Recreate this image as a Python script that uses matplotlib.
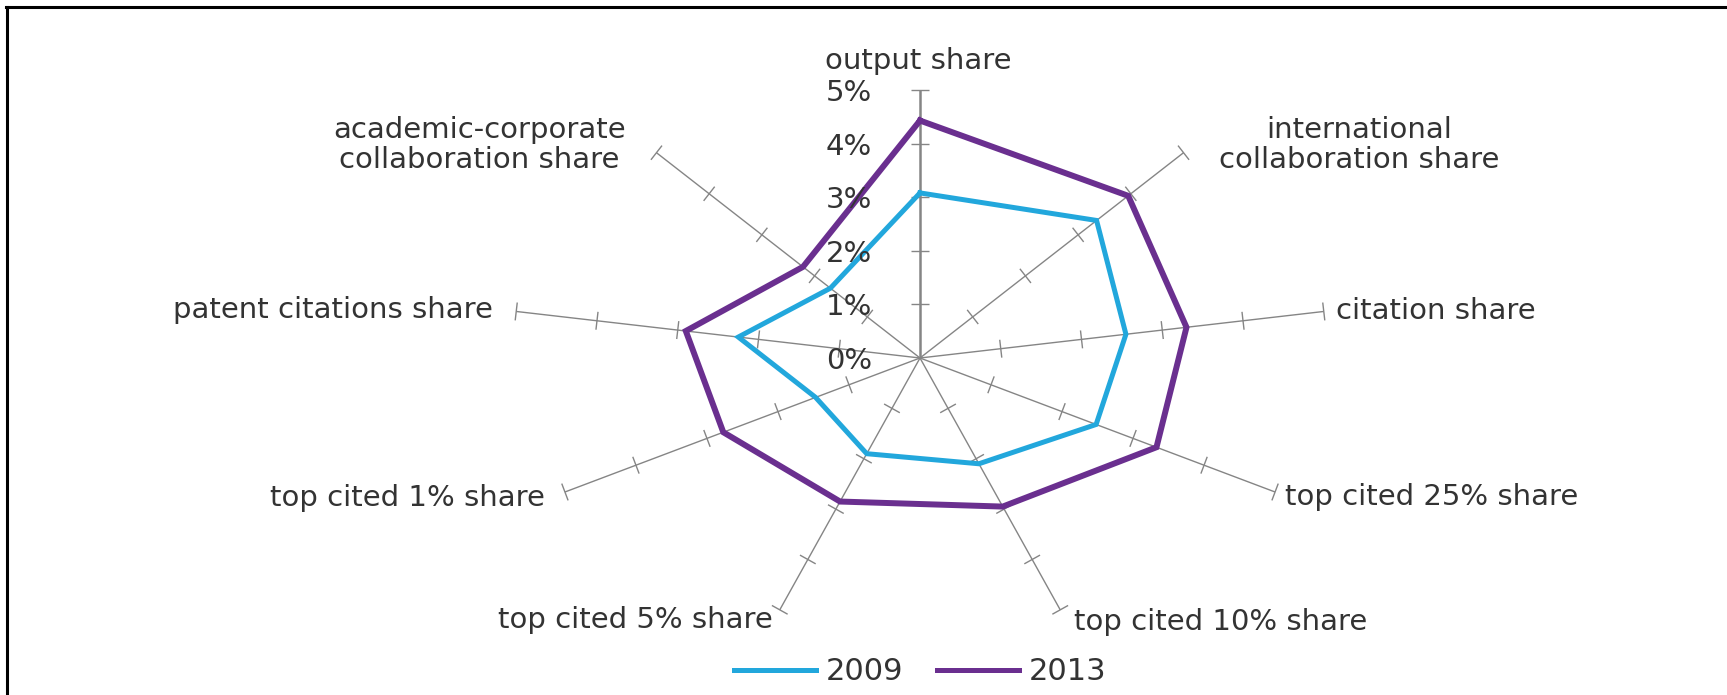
import numpy as np
import matplotlib
matplotlib.use("Agg")
import matplotlib.pyplot as plt
from matplotlib.collections import LineCollection
from matplotlib.lines import Line2D

CATEGORIES = ['output share', 'international\ncollaboration share', 'citation share',
              'top cited 25% share', 'top cited 10% share', 'top cited 5% share',
              'top cited 1% share', 'patent citations share',
              'academic-corporate\ncollaboration share']
SHARE_2009 = [3.08, 3.35, 2.55, 2.48, 2.10, 1.90, 1.47, 2.25, 1.70]
SHARE_2013 = [4.43, 3.95, 3.30, 3.33, 2.95, 2.85, 2.77, 2.90, 2.22]
RADIAL_TICKS = [0, 1, 2, 3, 4, 5]
RADIAL_LABELS = ['0%', '1%', '2%', '3%', '4%', '5%']

# label offsets from the end of each spoke, in pixels, and alignment
LABEL_OFFSETS = [(-2, 29), (176, 8), (12, 0), (10, -5), (14, -12),
                 (-7, -10), (-20, -6), (-23, 1), (-177, 8)]
LABEL_HA = ['center', 'center', 'left', 'left', 'left', 'right', 'right', 'right', 'center']

W, H = 1727, 695
CX, CY = 920, 358          # centre of the web in pixels
PX_X, PX_Y = 82.0, 53.6    # pixels per 1% (the original is stretched sideways)
GRAY = '#858585'
TEXT = '#333333'
BLUE = '#22a7dc'
PURPLE = '#6a2f8f'

plt.rcParams['font.family'] = ['DejaVu Sans']

fig = plt.figure(figsize=(W / 100, H / 100), dpi=100)
ax = fig.add_axes([0, 0, 1, 1])
ax.set_xlim(-CX / PX_X, (W - CX) / PX_X)
ax.set_ylim(-(H - CY) / PX_Y, CY / PX_Y)
ax.axis('off')

n = len(CATEGORIES)
angles = np.deg2rad(90 - 40 * np.arange(n))
rmax = RADIAL_TICKS[-1]

# spokes
for i, a in enumerate(angles):
    ax.plot([0, rmax * np.cos(a)], [0, rmax * np.sin(a)], color=GRAY,
            lw=1.8 if i == 0 else 1.0, zorder=1, solid_capstyle='butt')

# tick marks perpendicular to each spoke (in screen space)
half = 9.0
segs = []
for a in angles:
    dx, dy = PX_X * np.cos(a), PX_Y * np.sin(a)
    norm = np.hypot(dx, dy)
    px, py = -dy / norm, dx / norm
    for r in RADIAL_TICKS[1:]:
        x0, y0 = r * np.cos(a), r * np.sin(a)
        ox, oy = half * px / PX_X, half * py / PX_Y
        segs.append([(x0 - ox, y0 - oy), (x0 + ox, y0 + oy)])
ax.add_collection(LineCollection(segs, colors=GRAY, linewidths=1.0, zorder=1))

# series
def closed(vals):
    v = np.array(vals + vals[:1])
    a = np.concatenate([angles, angles[:1]])
    return v * np.cos(a), v * np.sin(a)

x, y = closed(SHARE_2009)
ax.plot(x, y, color=BLUE, lw=3.6, solid_joinstyle='miter', zorder=3)
x, y = closed(SHARE_2013)
ax.plot(x, y, color=PURPLE, lw=4.3, solid_joinstyle='miter', zorder=3)

# radial value labels along the vertical spoke
for t, lab in zip(RADIAL_TICKS, RADIAL_LABELS):
    ax.annotate(lab, xy=(0, t), xytext=(-48, -3), textcoords='offset pixels',
                ha='right', va='center', fontsize=21, color=TEXT, zorder=4)

# category labels
for i, (lab, a) in enumerate(zip(CATEGORIES, angles)):
    ax.annotate(lab, xy=(rmax * np.cos(a), rmax * np.sin(a)), xytext=LABEL_OFFSETS[i],
                textcoords='offset pixels', ha=LABEL_HA[i], va='center',
                multialignment='center', fontsize=21, color=TEXT, linespacing=1.1)

# legend
handles = [Line2D([], [], color=BLUE, lw=3.6), Line2D([], [], color=PURPLE, lw=3.6)]
fig.legend(handles, ['2009', '2013'], loc='center', bbox_to_anchor=(920 / W, 1 - 672 / H),
           ncol=2, frameon=False, fontsize=22, handlelength=2.7, handletextpad=0.3,
           columnspacing=1.1, labelcolor=TEXT)

# frame (top and left edges visible in the original)
fig.add_artist(Line2D([7 / W, 7 / W], [0, 1 - 7 / H], color='black', lw=2.2,
                      transform=fig.transFigure))
fig.add_artist(Line2D([6 / W, 1], [1 - 7 / H, 1 - 7 / H], color='black', lw=2.2,
                      transform=fig.transFigure))

fig.savefig('out.png', dpi=100)
